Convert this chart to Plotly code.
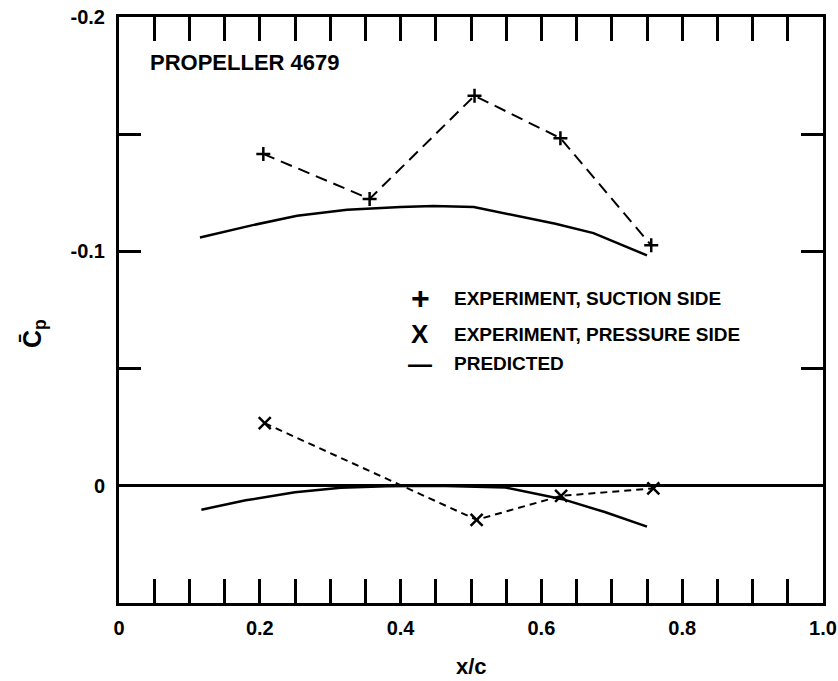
import plotly.graph_objects as go

# ---- data ----
x_suction = [0.205, 0.356, 0.505, 0.627, 0.756]
cp_suction = [-0.1416, -0.1224, -0.1664, -0.1483, -0.1026]

x_pressure = [0.207, 0.508, 0.628, 0.759]
cp_pressure = [-0.0267, 0.0145, 0.0043, 0.0011]

x_pred_suction = [0.115, 0.19, 0.253, 0.324, 0.40, 0.447, 0.504, 0.560, 0.62, 0.674, 0.75]
cp_pred_suction = [-0.1059, -0.1112, -0.1152, -0.1178, -0.1189, -0.1194, -0.1189, -0.1156, -0.1118, -0.1078, -0.0983]

x_pred_pressure = [0.117, 0.18, 0.25, 0.315, 0.38, 0.45, 0.549, 0.63, 0.69, 0.75]
cp_pred_pressure = [0.0102, 0.0062, 0.0028, 0.0008, 0.0002, 0.0000, 0.0007, 0.0057, 0.0112, 0.0174]

x_tickvals = [0, 0.2, 0.4, 0.6, 0.8, 1.0]
x_ticktext = ["0", "0.2", "0.4", "0.6", "0.8", "1.0"]
y_tickvals = [-0.2, -0.1, 0]
y_ticktext = ["-0.2", "-0.1", "0"]

title_text = "PROPELLER 4679"
legend_labels = ["EXPERIMENT, SUCTION SIDE", "EXPERIMENT, PRESSURE SIDE", "PREDICTED"]
legend_symbols = ["+", "X", "—"]

FONT = "Liberation Sans"

fig = go.Figure()

fig.add_trace(go.Scatter(x=x_pred_suction, y=cp_pred_suction, mode="lines",
                         line=dict(color="black", width=2.5), showlegend=False))
fig.add_trace(go.Scatter(x=x_pred_pressure, y=cp_pred_pressure, mode="lines",
                         line=dict(color="black", width=2.5), showlegend=False))
fig.add_trace(go.Scatter(x=x_suction, y=cp_suction, mode="lines+markers",
                         line=dict(color="black", width=2, dash="12px,7px"),
                         marker=dict(symbol="cross-thin", size=10,
                                     line=dict(color="black", width=2.5)),
                         showlegend=False))
fig.add_trace(go.Scatter(x=x_pressure, y=cp_pressure, mode="lines+markers",
                         line=dict(color="black", width=2, dash="7px,5px"),
                         marker=dict(symbol="x-thin", size=12,
                                     line=dict(color="black", width=2.5)),
                         showlegend=False))

axis_common = dict(showline=True, linecolor="black", linewidth=3, mirror="ticks",
                   ticks="inside", tickcolor="black", tickwidth=2.5,
                   showgrid=False,
                   tickfont=dict(family=FONT, size=20, color="black", weight="bold"))

fig.update_xaxes(range=[0, 1.0], tickmode="array", tickvals=x_tickvals, ticktext=x_ticktext,
                 ticklen=24, zeroline=False, ticklabelstandoff=5,
                 minor=dict(dtick=0.05, tick0=0, ticks="inside", ticklen=24,
                            tickwidth=2.5, tickcolor="black", showgrid=False),
                 **axis_common)
fig.update_yaxes(range=[0.05, -0.2], tickmode="array", tickvals=y_tickvals, ticktext=y_ticktext,
                 ticklen=22, zeroline=True, zerolinecolor="black", zerolinewidth=3,
                 ticklabelstandoff=7,
                 minor=dict(dtick=0.05, tick0=0, ticks="inside", ticklen=22,
                            tickwidth=2.5, tickcolor="black", showgrid=False),
                 **axis_common)

annos = []
annos.append(dict(text="<b>" + title_text + "</b>", x=0.041, y=0.922, xref="paper", yref="paper",
                  xanchor="left", yanchor="middle", showarrow=False,
                  font=dict(family=FONT, size=22, color="black")))
leg_y = [0.520, 0.459, 0.408]
sym_sizes = [32, 26, 24]
for lab, sym, yy, ss in zip(legend_labels, legend_symbols, leg_y, sym_sizes):
    annos.append(dict(text="<b>" + sym + "</b>", x=0.4276, y=yy, xref="paper", yref="paper",
                      xanchor="center", yanchor="middle", showarrow=False,
                      font=dict(family=FONT, size=ss, color="black")))
    annos.append(dict(text="<b>" + lab + "</b>", x=0.473, y=yy, xref="paper", yref="paper",
                      xanchor="left", yanchor="middle", showarrow=False,
                      font=dict(family=FONT, size=19, color="black")))
annos.append(dict(text="<b>x/c</b>", x=0.5, y=-0.109, xref="paper", yref="paper",
                  xanchor="center", yanchor="middle", showarrow=False,
                  font=dict(family=FONT, size=22, color="black")))
annos.append(dict(text="<b>C\u0304<sub>p</sub></b>", x=-0.12, y=0.46, xref="paper", yref="paper",
                  xanchor="center", yanchor="middle", showarrow=False, textangle=-90,
                  font=dict(family=FONT, size=25, color="black")))

fig.update_layout(width=838, height=681, plot_bgcolor="white", paper_bgcolor="white",
                  margin=dict(l=119, r=15, t=17, b=78, autoexpand=False),
                  annotations=annos, showlegend=False)

fig.write_html("out.html")
